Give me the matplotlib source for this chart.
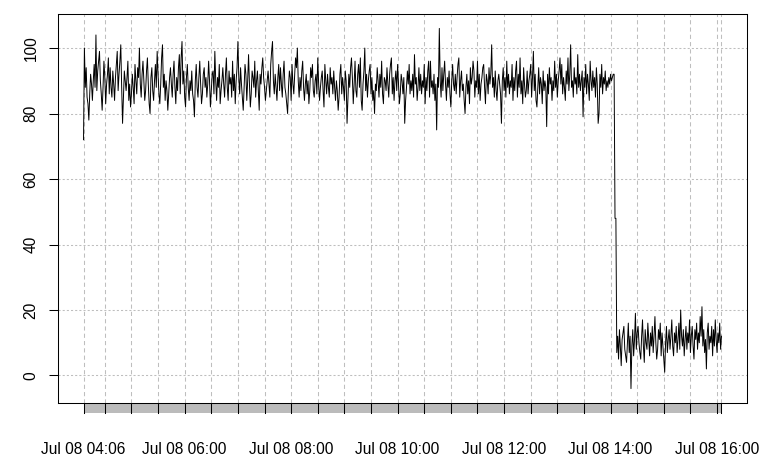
import numpy as np
import pandas as pd
import matplotlib
matplotlib.use("Agg")
import matplotlib.pyplot as plt
import matplotlib.dates as mdates
from matplotlib.transforms import blended_transform_factory
from matplotlib.patches import Rectangle

start_time = "2017-07-08 04:06"

# one reading per minute, 04:06 .. 16:05
values = [
    72, 100, 88, 94, 85, 83, 78, 86, 92, 89, 84, 90, 95, 88, 104, 87, 93, 96, 99, 90,
    86, 81, 88, 96, 91, 83, 89, 92, 97, 86, 94, 88, 85, 93, 89, 84, 91, 95, 99, 87,
    92, 96, 101, 88, 77, 85, 93, 90, 87, 91, 96, 84, 89, 82, 86, 92, 88, 83, 95, 90,
    86, 94, 91, 100, 89, 85, 92, 96, 90, 84, 87, 93, 97, 89, 83, 80, 91, 94, 87, 84,
    90, 95, 88, 99, 92, 86, 83, 89, 97, 101, 88, 92, 84, 90, 87, 81, 86, 91, 94, 89,
    85, 92, 96, 88, 83, 91, 87, 94, 98, 86, 97, 102, 89, 93, 85, 82, 91, 95, 88, 84,
    90, 87, 93, 86, 84, 79, 90, 95, 88, 85, 91, 96, 89, 83, 86, 92, 94, 88, 91, 85,
    89, 96, 90, 82, 87, 92, 93, 86, 99, 90, 84, 91, 88, 95, 83, 87, 90, 94, 89, 85,
    92, 97, 88, 84, 93, 89, 91, 85, 96, 87, 92, 83, 90, 94, 102, 91, 86, 94, 89, 85,
    81, 88, 95, 92, 84, 90, 98, 89, 82, 86, 93, 91, 88, 96, 85, 90, 93, 87, 81, 92,
    89, 94, 97, 91, 88, 84, 87, 90, 93, 89, 85, 95, 99, 102, 90, 86, 92, 88, 84, 91,
    95, 87, 94, 89, 85, 92, 96, 88, 86, 83, 80, 88, 93, 91, 84, 95, 89, 86, 92, 97,
    94, 100, 90, 85, 91, 87, 93, 96, 88, 84, 89, 92, 86, 90, 83, 87, 94, 91, 95, 87,
    85, 90, 92, 86, 97, 89, 84, 88, 91, 93, 87, 82, 95, 90, 86, 92, 88, 85, 94, 89,
    91, 86, 93, 88, 84, 90, 87, 81, 85, 92, 95, 86, 91, 88, 84, 93, 90, 77, 85, 92,
    88, 94, 97, 91, 83, 89, 96, 87, 85, 92, 95, 88, 97, 84, 81, 89, 93, 100, 87, 92,
    85, 90, 93, 95, 86, 91, 84, 87, 80, 89, 87, 94, 90, 85, 92, 88, 96, 86, 83, 91,
    90, 87, 94, 89, 85, 92, 95, 97, 86, 91, 84, 90, 93, 87, 95, 89, 83, 86, 92, 90,
    86, 91, 77, 84, 88, 93, 89, 95, 86, 90, 87, 92, 85, 98, 89, 91, 84, 88, 94, 87,
    92, 86, 90, 88, 95, 83, 91, 87, 93, 96, 85, 96, 88, 90, 86, 92, 84, 89, 75, 91,
    88, 106, 90, 85, 94, 87, 92, 96, 89, 84, 91, 88, 93, 86, 82, 90, 95, 89, 87, 92,
    86, 91, 95, 97, 85, 90, 93, 87, 89, 84, 80, 88, 92, 86, 90, 83, 94, 89, 91, 96,
    93, 85, 90, 88, 96, 86, 92, 84, 89, 91, 94, 95, 88, 83, 92, 90, 86, 94, 89, 92,
    101, 88, 91, 85, 93, 87, 84, 90, 92, 89, 86, 77, 90, 94, 87, 91, 85, 96, 88, 92,
    86, 90, 88, 95, 84, 91, 87, 93, 96, 85, 92, 88, 97, 86, 90, 83, 94, 89, 85, 87,
    93, 86, 90, 92, 95, 85, 91, 99, 87, 92, 84, 82, 88, 94, 86, 91, 89, 83, 93, 87,
    90, 88, 76, 92, 86, 94, 89, 91, 84, 90, 87, 96, 88, 92, 85, 90, 93, 97, 89, 95,
    86, 91, 88, 84, 93, 89, 97, 87, 92, 101, 88, 90, 85, 94, 89, 91, 86, 98, 88, 92,
    87, 90, 93, 79, 91, 88, 95, 86, 92, 89, 84, 96, 90, 87, 93, 88, 91, 85, 94, 89,
    77, 80, 92, 88, 95, 86, 91, 89, 93, 87, 90, 88, 91, 89, 92, 90, 91, 92, 92, 48,
    48, 7, 12, 5, 14, 9, 3, 11, 13, 15, 8, 6, 4, 10, 16, 7, 12, -4, 9, 14,
    6, 11, 19, 8, 13, 15, 10, 7, 5, 12, 17, 9, 4, 14, 10, 8, 16, 11, 6, 13,
    9, 15, 7, 12, 18, 10, 5, 8, 14, 11, 16, 6, 13, 9, 5, 1, 10, 15, 7, 11,
    14, 8, 12, 17, 9, 6, 13, 10, 15, 7, 11, 16, 8, 20, 12, 9, 14, 6, 11, 15,
    8, 13, 10, 17, 7, 12, 15, 9, 5, 14, 11, 16, 8, 13, 10, 18, 12, 21, 9, 14,
    7, 11, 2, 13, 16, 8, 12, 10, 15, 6, 14, 9, 17, 11, 7, 13, 10, 16, 8, 12,
]

y_ticks = [0, 20, 40, 60, 80, 100]
label_hours = ["06:00", "08:00", "10:00", "12:00", "14:00", "16:00"]
grid_start = "2017-07-08 04:30"
grid_end = "2017-07-08 16:00"

plt.rcParams['font.family'] = ['Liberation Sans', 'DejaVu Sans']
plt.rcParams['font.size'] = 11.2

times = pd.date_range(start_time, periods=len(values), freq="min")

W, H = 780, 467
fig = plt.figure(figsize=(W / 100, H / 100), dpi=100)
ax = fig.add_axes([58 / W, 64 / H, 689 / W, 389 / H])

ax.plot(times, values, color='black', lw=0.7, zorder=3)

x0 = mdates.date2num(times[0])
x1 = mdates.date2num(times[-1])
dx = 0.04 * (x1 - x0)
lo, hi = min(values), max(values)
dy = 0.04 * (hi - lo)

grid_times = [times[0]] + list(pd.date_range(grid_start, grid_end, freq="30min")) + [times[-1]]
gx = mdates.date2num(grid_times)

for g in gx:
    ax.axvline(g, color='#BEBEBE', lw=0.75, ls=(0, (4, 3)), zorder=1)
for yv in y_ticks:
    ax.axhline(yv, color='#BEBEBE', lw=0.75, ls=(0, (2, 2)), zorder=1)

trans = blended_transform_factory(ax.transData, ax.transAxes)
bh = 10 / 389
ax.add_patch(Rectangle((x0, -bh), x1 - x0, bh, transform=trans,
                       facecolor='#BBBBBB', edgecolor='none', clip_on=False, zorder=2))
for g in gx:
    ax.plot([g, g], [-bh, 0], transform=trans, color='black', lw=0.75,
            clip_on=False, zorder=3)

label_pos = [x0] + [mdates.date2num(pd.Timestamp("2017-07-08 " + h)) for h in label_hours]
label_txt = ["Jul 08 04:06"] + ["Jul 08 " + h for h in label_hours]
ax.set_xticks(label_pos)
ax.set_xticklabels(label_txt)
ax.tick_params(axis='x', length=0, pad=28)

ax.set_yticks(y_ticks)
ax.set_yticklabels([str(v) for v in y_ticks], rotation=90, va='center')
ax.tick_params(axis='y', length=6.5, width=0.75, pad=7.5)

for s in ax.spines.values():
    s.set_linewidth(0.75)
    s.set_color('black')

ax.set_xlim(x0 - dx, x1 + dx)
ax.set_ylim(lo - dy, hi + dy)

fig.savefig("out.png", dpi=100)
